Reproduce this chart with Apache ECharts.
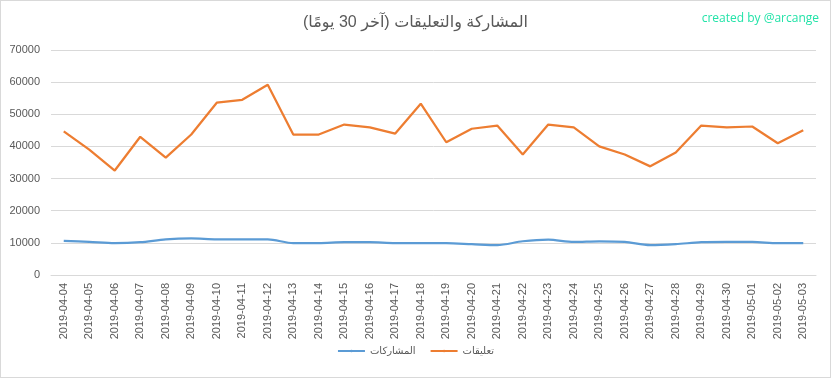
<!DOCTYPE html>
<html>
<head>
<meta charset="utf-8">
<script src="https://cdn.jsdelivr.net/npm/echarts@6/dist/echarts.min.js"></script>
<style>
  html, body { margin: 0; padding: 0; background: #fff; }
  #chart {
    width: 829px;
    height: 376px;
    border: 1px solid #d9d9d9;
  }
</style>
</head>
<body>
<div id="chart"></div>
<script>
  // days (x axis)
  var days = ['2019-04-04', '2019-04-05', '2019-04-06', '2019-04-07', '2019-04-08', '2019-04-09',
    '2019-04-10', '2019-04-11', '2019-04-12', '2019-04-13', '2019-04-14', '2019-04-15',
    '2019-04-16', '2019-04-17', '2019-04-18', '2019-04-19', '2019-04-20', '2019-04-21',
    '2019-04-22', '2019-04-23', '2019-04-24', '2019-04-25', '2019-04-26', '2019-04-27',
    '2019-04-28', '2019-04-29', '2019-04-30', '2019-05-01', '2019-05-02', '2019-05-03'];

  // المشاركات (posts)
  var posts = [10600, 10300, 9900, 10200, 11100, 11400, 11100, 11100, 11100, 9900,
    9900, 10200, 10200, 9900, 9900, 9900, 9600, 9300, 10500, 11000,
    10300, 10500, 10300, 9300, 9600, 10200, 10300, 10300, 9900, 9900];

  // تعليقات (comments)
  var comments = [44700, 39000, 32500, 43000, 36500, 43700, 53600, 54500, 59200, 43700,
    43700, 46800, 45900, 44000, 53300, 41300, 45500, 46500, 37500, 46800,
    45900, 40000, 37500, 33800, 38100, 46500, 45900, 46200, 41000, 45000];

  var yTicks = { min: 0, max: 70000, interval: 10000 };

  var font = "'Liberation Sans', 'DejaVu Sans', sans-serif";
  var grey = '#595959';

  var chart = echarts.init(document.getElementById('chart'));
  chart.setOption({
    animation: false,
    textStyle: { fontFamily: font },
    title: [{
      text: 'المشاركة والتعليقات (آخر 30 يومًا)',
      left: 'center',
      top: 9,
      textStyle: { fontSize: 16, fontWeight: 'normal', color: grey, fontFamily: font }
    }, {
      text: 'created by @arcange',
      right: 6,
      top: 7,
      textStyle: { fontSize: 12, fontWeight: 'normal', color: '#22e3a8', fontFamily: "'Open Sans', sans-serif" }
    }],
    legend: {
      data: ['المشاركات', 'تعليقات'],
      bottom: 16,
      left: 'center',
      itemWidth: 27,
      itemHeight: 3,
      itemGap: 14,
      textStyle: { fontSize: 10, color: grey }
    },
    grid: {
      left: 50,
      right: 14,
      top: 49,
      bottom: 102
    },
    xAxis: {
      type: 'category',
      data: days,
      boundaryGap: true,
      axisLine: { show: true, lineStyle: { color: '#d9d9d9' } },
      axisTick: { show: false },
      axisLabel: {
        rotate: 90,
        interval: 0,
        fontSize: 11,
        color: grey,
        margin: 8
      }
    },
    yAxis: {
      type: 'value',
      min: yTicks.min,
      max: yTicks.max,
      interval: yTicks.interval,
      axisLine: { show: false },
      axisTick: { show: false },
      splitLine: { lineStyle: { color: '#d9d9d9' } },
      axisLabel: {
        fontSize: 11,
        color: grey,
        margin: 11,
        formatter: function (v) { return String(v); }
      }
    },
    series: [{
      name: 'المشاركات',
      type: 'line',
      data: posts,
      symbol: 'none',
      smooth: 0.3,
      lineStyle: { width: 2.25, color: '#5b9bd5' },
      itemStyle: { color: '#5b9bd5' }
    }, {
      name: 'تعليقات',
      type: 'line',
      data: comments,
      symbol: 'none',
      lineStyle: { width: 2.25, color: '#ed7d31' },
      itemStyle: { color: '#ed7d31' }
    }]
  });
</script>
</body>
</html>
